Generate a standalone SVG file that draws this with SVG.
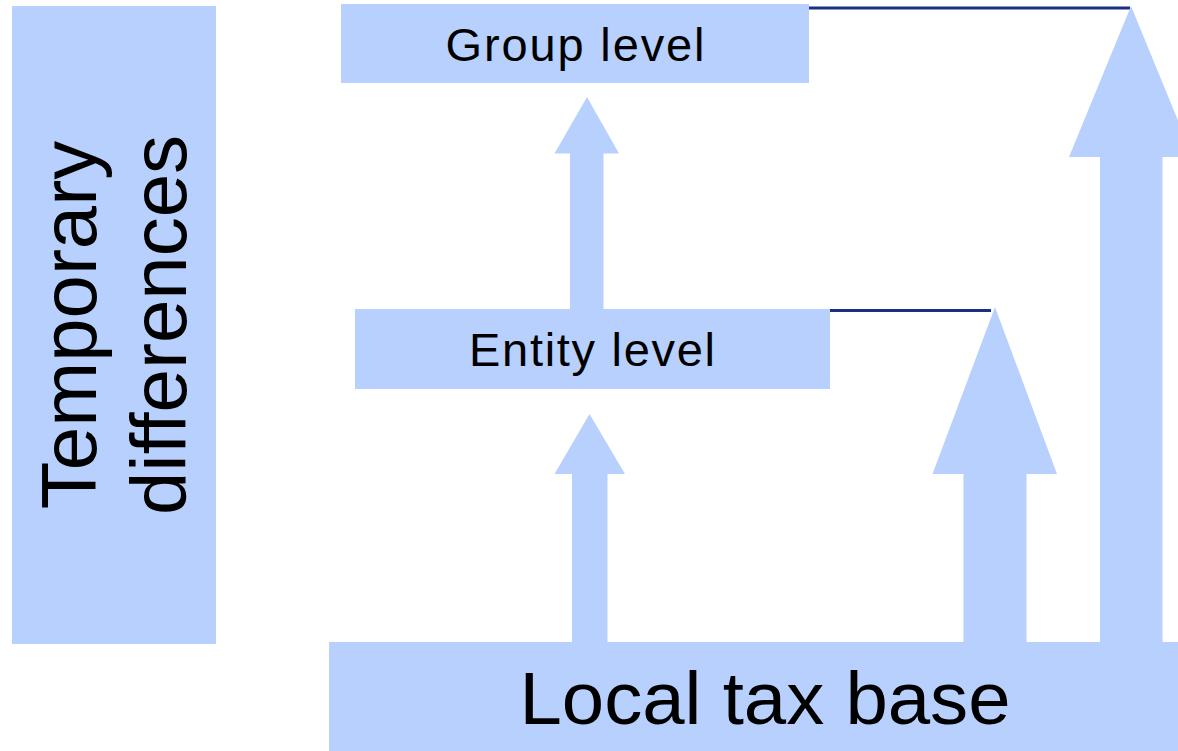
<svg xmlns="http://www.w3.org/2000/svg" width="1178" height="751" viewBox="0 0 1178 751">
<style>
.box{fill:#b7d0fd}
.arrow{fill:#b7d0fd}
.lbl{font-family:"Liberation Sans",Arial,sans-serif;fill:#000;text-anchor:middle}
.link{stroke:#1a2f82;stroke-width:3;fill:none}
</style>
<rect width="1178" height="751" fill="#fff"/>
<g id="temporary-differences">
<rect class="box" x="12" y="6" width="204" height="638"/>
<text class="lbl" font-size="78" transform="translate(96,325) rotate(-90)">Temporary</text>
<text class="lbl" font-size="78" transform="translate(186,325) rotate(-90)">differences</text>
</g>
<g id="connectors">
<line class="link" x1="809" y1="8" x2="1130" y2="8"/>
<line class="link" x1="814" y1="310.5" x2="991" y2="310.5"/>
<polygon class="arrow" points="570,309 570,153.5 554.5,153.5 587,97 619,153.5 603.5,153.5 603.5,309"/>
<polygon class="arrow" points="572,643 572,474 554.5,474 589.5,414 625,474 607.5,474 607.5,643"/>
<polygon class="arrow" points="963.5,643 963.5,474 932.5,474 995,307 1057,474 1026.5,474 1026.5,643"/>
<polygon class="arrow" points="1100,643 1100,157 1069,157 1131,6 1193,157 1162.5,157 1162.5,643"/>
</g>
<g id="group-level">
<rect class="box" x="341" y="4" width="468" height="79"/>
<text class="lbl" x="575" y="61" font-size="47" textLength="259" lengthAdjust="spacing">Group level</text>
</g>
<g id="entity-level">
<rect class="box" x="355" y="309" width="475" height="80"/>
<text class="lbl" x="592" y="366" font-size="47" textLength="246" lengthAdjust="spacing">Entity level</text>
</g>
<g id="local-tax-base">
<rect class="box" x="329" y="642" width="849" height="109"/>
<text class="lbl" x="765" y="724" font-size="75" textLength="491" lengthAdjust="spacingAndGlyphs">Local tax base</text>
</g>
</svg>
